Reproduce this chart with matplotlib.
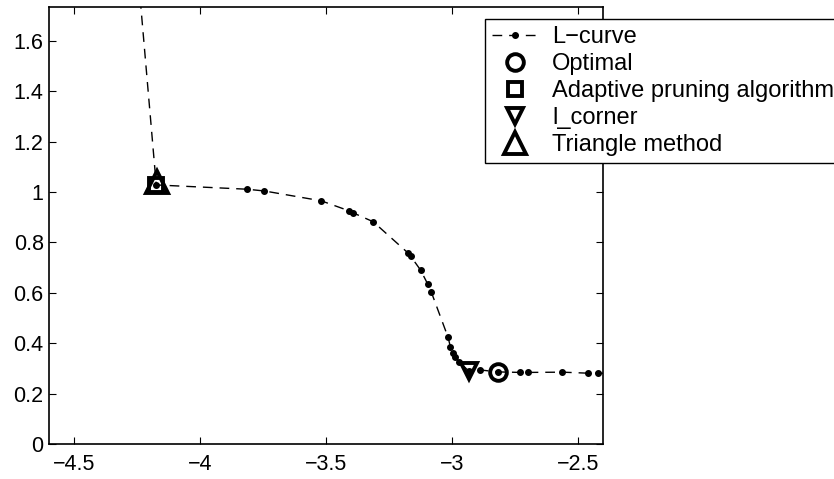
import matplotlib
matplotlib.use('Agg')
import matplotlib.pyplot as plt

# L-curve points (log residual norm vs. log solution norm)
lcurve_x = [-4.30, -4.173, -3.813, -3.744, -3.519, -3.408, -3.392, -3.313,
            -3.176, -3.165, -3.125, -3.097, -3.083, -3.016, -3.007, -2.996,
            -2.987, -2.971, -2.935, -2.891, -2.818, -2.729, -2.700, -2.563,
            -2.462, -2.422, -2.30]
lcurve_y = [2.50, 1.028, 1.011, 1.004, 0.965, 0.925, 0.917, 0.882,
            0.759, 0.746, 0.690, 0.635, 0.604, 0.423, 0.386, 0.360,
            0.345, 0.325, 0.290, 0.294, 0.286, 0.284, 0.284, 0.285,
            0.281, 0.281, 0.278]

optimal_x, optimal_y = [-2.818], [0.286]
adaptive_x, adaptive_y = [-4.173], [1.028]
lcorner_x, lcorner_y = [-2.935], [0.290]
triangle_x, triangle_y = [-4.170], [1.040]

x_ticks = [-4.5, -4, -3.5, -3, -2.5]
y_ticks = [0, 0.2, 0.4, 0.6, 0.8, 1, 1.2, 1.4, 1.6]


def main():
    plt.rcParams['font.family'] = ['Liberation Sans', 'DejaVu Sans']
    plt.rcParams['font.size'] = 15.5

    fig = plt.figure(figsize=(8.34, 4.79), dpi=100)
    ax = fig.add_axes([0.0582, 0.0731, 0.6654, 0.9117])

    ax.plot(lcurve_x, lcurve_y, color='black', linestyle='--', dashes=(7, 5),
            linewidth=1, marker='.', markersize=8, label='L\u2212curve')
    mk = dict(color='black', linestyle='none', mfc='none', mew=2.8)
    ax.plot(optimal_x, optimal_y, marker='o', markersize=12, label='Optimal', **mk)
    ax.plot(adaptive_x, adaptive_y, marker='s', markersize=10,
            label='Adaptive pruning algorithm', **mk)
    ax.plot(lcorner_x, lcorner_y, marker='v', markersize=12, label='l_corner', **mk)
    ax.plot(triangle_x, triangle_y, marker='^', markersize=16,
            label='Triangle method', **mk)

    ax.set_xlim(-4.6, -2.4)
    ax.set_ylim(0, 1.733)
    ax.set_xticks(x_ticks)
    ax.set_xticklabels(['\u22124.5', '\u22124', '\u22123.5', '\u22123', '\u22122.5'])
    ax.set_yticks(y_ticks)
    ax.set_yticklabels(['0', '0.2', '0.4', '0.6', '0.8', '1', '1.2', '1.4', '1.6'])
    ax.tick_params(direction='in', top=True, right=True, length=5, width=0.8)
    ax.tick_params(axis='x', pad=7)
    for sp in ax.spines.values():
        sp.set_linewidth(1.2)

    leg = ax.legend(loc='upper left', bbox_to_anchor=(485 / 834, 1 - 19 / 479),
                    bbox_transform=fig.transFigure, frameon=True, fancybox=False,
                    edgecolor='black', framealpha=1, borderaxespad=0,
                    handlelength=1.9, handletextpad=0.65, labelspacing=0.21,
                    borderpad=0.3, fontsize=17)
    leg.get_frame().set_linewidth(1.0)

    fig.savefig('out.png', dpi=100)


if __name__ == '__main__':
    main()
